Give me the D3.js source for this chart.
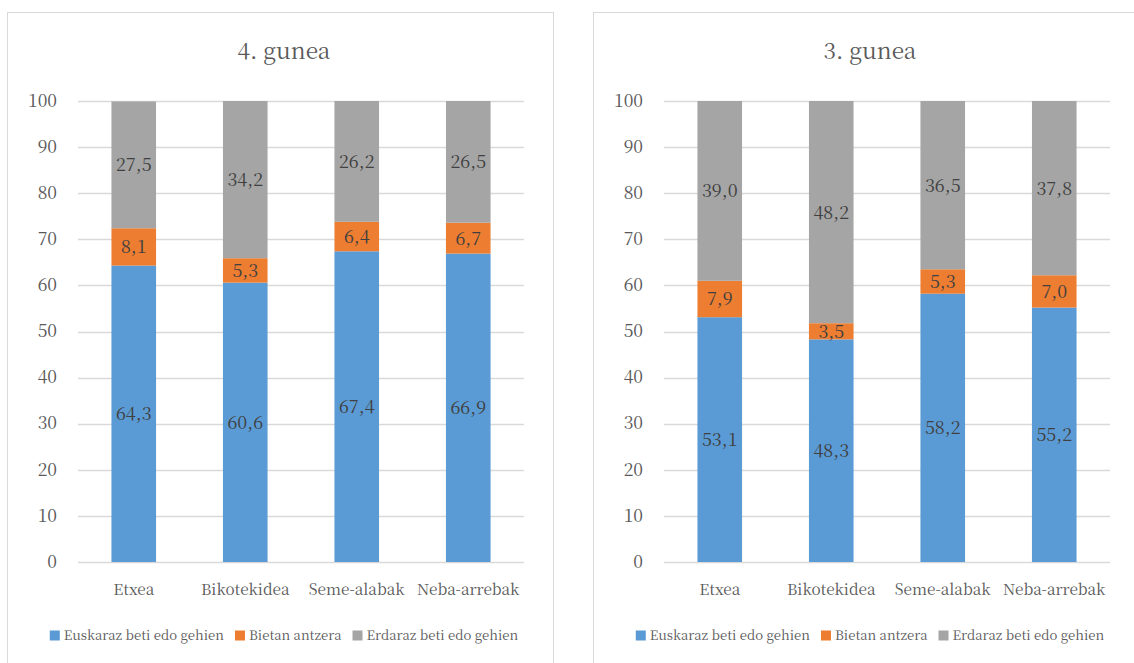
<!DOCTYPE html>
<html><head><meta charset="utf-8">
<script src="https://cdn.jsdelivr.net/npm/d3@7"></script>
<style>body{margin:0;background:#fff}svg{display:block}</style>
</head><body>
<svg id="c" width="1134" height="663"></svg>
<script>
const categories = ["Etxea", "Bikotekidea", "Seme-alabak", "Neba-arrebak"];
const seriesNames = ["Euskaraz beti edo gehien", "Bietan antzera", "Erdaraz beti edo gehien"];
const titles = ["4. gunea", "3. gunea"];
const g4Euskaraz = [64.3, 60.6, 67.4, 66.9];
const g4Bietan = [8.1, 5.3, 6.4, 6.7];
const g4Erdaraz = [27.5, 34.2, 26.2, 26.5];
const g3Euskaraz = [53.1, 48.3, 58.2, 55.2];
const g3Bietan = [7.9, 3.5, 5.3, 7.0];
const g3Erdaraz = [39.0, 48.2, 36.5, 37.8];
const yTicks = [0,10,20,30,40,50,60,70,80,90,100];
const colors = ["#5B9BD5", "#ED7D31", "#A5A5A5"];
const FONT = "'Noto Serif CJK SC', 'Liberation Serif', serif";

const panels = [
  {title: titles[0], data: [g4Euskaraz, g4Bietan, g4Erdaraz], box: [7, 12, 546], plot: [78, 524]},
  {title: titles[1], data: [g3Euskaraz, g3Bietan, g3Erdaraz], box: [593, 12, 560], plot: [664, 1110]}
];
const svg = d3.select("#c");
const fmt = v => d3.format(".1f")(v).replace(".", ",");

panels.forEach(p => {
  const g = svg.append("g").style("font-family", FONT);
  const cx = (p.plot[0] + p.plot[1]) / 2 - 17;
  g.append("rect").attr("x", p.box[0] + 0.5).attr("y", p.box[1] + 0.5)
    .attr("width", p.box[2]).attr("height", 700)
    .attr("fill", "#fff").attr("stroke", "#D9D9D9").attr("stroke-width", 1);
  const x = d3.scaleBand().domain(categories).range(p.plot).paddingInner(0.6).paddingOuter(0.3);
  const y = d3.scaleLinear().domain([0, 100]).range([562, 101]);
  g.append("text").attr("x", cx).attr("y", 59)
    .attr("text-anchor", "middle").style("font-size", "22.6px").style("font-family", FONT).attr("fill", "#595959").text(p.title);
  g.append("g").selectAll("line").data(yTicks).join("line")
    .attr("x1", p.plot[0]).attr("x2", p.plot[1])
    .attr("y1", d => Math.round(y(d)) + 0.5).attr("y2", d => Math.round(y(d)) + 0.5)
    .attr("stroke", "#D9D9D9").attr("stroke-width", 1.3);
  const ya = g.append("g").attr("transform", `translate(${p.plot[0]},0)`)
    .call(d3.axisLeft(y).tickValues(yTicks).tickSize(0).tickPadding(21));
  ya.attr("font-family", null);
  ya.select(".domain").remove();
  ya.selectAll("text").style("font-size", "17.6px").style("font-family", FONT).attr("fill", "#595959").attr("dy", "0.3em");
  const xa = g.append("g").attr("transform", `translate(0,562)`)
    .call(d3.axisBottom(x).tickSize(0).tickPadding(0));
  xa.attr("font-family", null);
  xa.select(".domain").remove();
  xa.selectAll("text").attr("y", 33).attr("dy", null).style("font-size", "15.4px").style("font-family", FONT).attr("fill", "#595959");
  const rows = categories.map((c, i) => ({cat: c, s0: p.data[0][i], s1: p.data[1][i], s2: p.data[2][i]}));
  const stack = d3.stack().keys(["s0", "s1", "s2"])(rows);
  stack.forEach((layer, li) => {
    const lg = g.append("g");
    lg.selectAll("rect").data(layer).join("rect")
      .attr("x", d => x(d.data.cat)).attr("width", x.bandwidth())
      .attr("y", d => y(Math.min(d[1], 100))).attr("height", d => y(d[0]) - y(Math.min(d[1], 100)))
      .attr("fill", colors[li]);
    lg.selectAll("text").data(layer).join("text")
      .attr("x", d => x(d.data.cat) + x.bandwidth() / 2)
      .attr("y", d => (y(d[0]) + y(Math.min(d[1], 100))) / 2)
      .attr("dy", "0.36em").attr("text-anchor", "middle")
      .style("font-size", "18px").style("font-family", FONT).attr("fill", "#404040")
      .text(d => fmt(d[1] - d[0]));
  });
  const leg = g.append("g");
  let lx = 0;
  seriesNames.forEach((n, i) => {
    leg.append("rect").attr("x", lx).attr("y", 630.5).attr("width", 10).attr("height", 10).attr("fill", colors[i]);
    const t = leg.append("text").attr("x", lx + 14).attr("y", 640).style("font-size", "13.2px").style("font-family", FONT).attr("fill", "#595959").text(n);
    lx += 14 + t.node().getComputedTextLength() + (i < 2 ? 11 : 0);
  });
  leg.attr("transform", `translate(${cx - lx / 2},0)`);
});
</script>
</body></html>
